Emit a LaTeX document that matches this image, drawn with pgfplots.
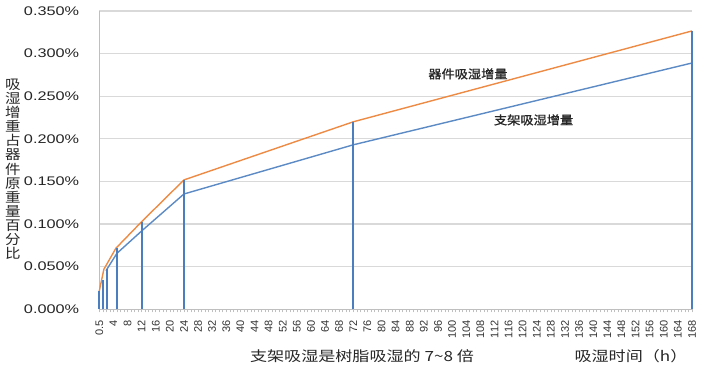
\documentclass[border=0pt]{standalone}
\usepackage{fontspec}
\setmainfont{Liberation Sans}
\newfontfamily\ytickfont{Liberation Sans}[FakeStretch=1.3]
\newfontfamily\cjk{Noto Sans CJK SC}[FakeStretch=1.15]
\newfontfamily\cjkbold{Noto Sans CJK SC}[FakeStretch=1.1, FakeBold=1.2]
\newfontfamily\cjkwide{Noto Sans CJK SC}[FakeStretch=1.22]
\usepackage{pgfplots}
\usepackage{pgfplotstable}
\pgfplotsset{compat=1.18}
\definecolor{orangeline}{HTML}{ED8B45}
\definecolor{blueline}{HTML}{5B8AC4}
\definecolor{dropblue}{HTML}{4A7EBF}
\definecolor{gridgray}{HTML}{D9D9D9}
\definecolor{axisgray}{HTML}{BFBFBF}
\definecolor{textdark}{HTML}{262626}
\definecolor{textgray}{HTML}{333333}

\pgfplotstableread{
x y
0 0.0215
1.3 0.047
4.7 0.0716
12 0.1028
24 0.1518
72 0.2200
168 0.3266
}\orangedata
\pgfplotstableread{
x y
1.9 0.0453
5 0.0657
12 0.0919
24 0.1353
72 0.1930
168 0.2890
}\bluedata
\pgfplotstableread{
x y
0 0.0215
1.1 0.0344
2.1 0.0470
5.1 0.0720
12 0.1028
24 0.1518
72 0.2200
168 0.3270
}\dropdata

\begin{document}
\begin{tikzpicture}
\begin{axis}[
  scale only axis, width=592.7pt, height=298.3pt,
  xmin=0, xmax=168, ymin=0, ymax=0.35,
  axis x line=bottom, axis y line=left,
  axis line style={draw=axisgray, line width=1pt, -},
  xtick={0,4,...,168},
  xticklabels={0.5,4,8,12,16,20,24,28,32,36,40,44,48,52,56,60,64,68,72,76,80,84,88,92,96,100,104,108,112,116,120,124,128,132,136,140,144,148,152,156,160,164,168},
  minor x tick num=3,
  tick align=outside,
  major tick length=3pt, minor tick length=3pt,
  xtick style={draw=axisgray, line width=0.6pt},
  ytick={0,0.05,0.1,0.15,0.2,0.25,0.3,0.35},
  ytick style={draw=none},
  ymajorgrids, grid style={draw=gridgray, line width=1.2pt},
  /pgf/number format/assume math mode=true,
  yticklabel={\pgfmathprintnumber[fixed,fixed zerofill,precision=3]{\tick}\%},
  yticklabel style={font=\ytickfont\fontsize{12.5}{14}\selectfont, text=textdark, anchor=east, inner sep=0pt, xshift=-17pt},
  xticklabel style={rotate=90, anchor=east, font=\fontsize{11}{11}\selectfont, text=textgray, inner sep=0pt, xshift=-8pt},
  clip=false,
]
\addplot[orangeline, line width=1.4pt, mark=none] table {\orangedata};
\addplot[blueline, line width=1.4pt, mark=none] table {\bluedata};
\addplot[ycomb, dropblue, line width=1.8pt, mark=none] table {\dropdata};
\node[font=\cjkbold\fontsize{12}{12}\selectfont, text=textdark] at (axis cs:104.5,0.2762) {器件吸湿增量};
\node[font=\cjkbold\fontsize{12}{12}\selectfont, text=textdark] at (axis cs:123.1,0.2222) {支架吸湿增量};
\coordinate (ll) at (rel axis cs:0,0);
\coordinate (ur) at (rel axis cs:1,1);
\end{axis}
\node[font=\cjk\fontsize{13.5}{14.1}\selectfont, text=textdark, align=center, inner sep=0pt] at ([xshift=-86.3pt, yshift=140pt]ll) {吸\\湿\\增\\重\\占\\器\\件\\原\\重\\量\\百\\分\\比};
\node[font=\cjkwide\fontsize{14}{14}\selectfont, text=textdark] at ([xshift=262.7pt, yshift=-46.7pt]ll) {支架吸湿是树脂吸湿的 7\textasciitilde 8 倍};
\node[font=\cjkwide\fontsize{14}{14}\selectfont, text=textdark] at ([xshift=531.7pt, yshift=-46.7pt]ll) {吸湿时间（h）};
\pgfresetboundingbox
\path[use as bounding box] ([xshift=-99.3pt,yshift=-80.7pt]ll) rectangle ([xshift=25pt,yshift=11pt]ur);
\end{tikzpicture}
\end{document}
